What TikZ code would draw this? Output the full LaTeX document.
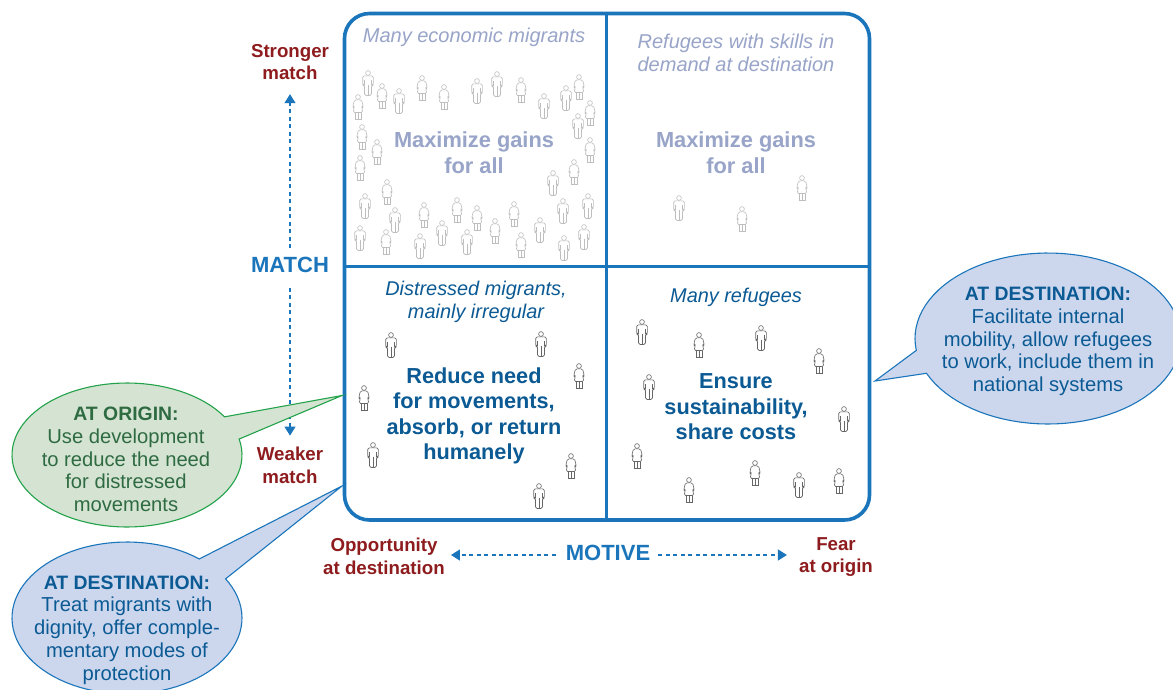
\documentclass[tikz,border=0pt]{standalone}
\usepackage{fontspec}
\setmainfont{Liberation Sans}
\usetikzlibrary{arrows.meta}
\definecolor{framec}{HTML}{1B75BB}
\definecolor{palec}{HTML}{98A4C8}
\definecolor{darkb}{HTML}{0B5A94}
\definecolor{redc}{HTML}{8E1C1E}
\definecolor{bluef}{HTML}{CCD7EE}
\definecolor{greenf}{HTML}{D5E4D2}
\definecolor{greens}{HTML}{22A24A}
\definecolor{greent}{HTML}{2F6B42}
\definecolor{greyfig}{HTML}{BEBEBE}
\definecolor{darkfig}{HTML}{666666}
\newcommand{\bubhead}[1]{{\fontsize{19.4}{22.8}\selectfont\bfseries #1}}
\tikzset{
  x=1pt,y=-1pt,
  figline/.style={draw=black},
  pics/man/.style={code={
    \draw[figline,line width=.6pt] (0,-10) circle (2.4);
    \draw[figline,line width=.6pt,rounded corners=1.6pt] (0,-7.2) -- (5.3,-7.2) -- (5.3,2) -- (3.5,2) -- (3.5,12.5) -- (-3.5,12.5) -- (-3.5,2) -- (-5.3,2) -- (-5.3,-7.2) -- cycle;
    \draw[figline,line width=.6pt] (0,1.5) -- (0,12.5) (3.5,-3) -- (3.5,2) (-3.5,-3) -- (-3.5,2);
  }},
  pics/woman/.style={code={
    \draw[figline,line width=.6pt] (0,-10) circle (2.4);
    \draw[figline,line width=.6pt,rounded corners=1.6pt] (0,-7.2) -- (3.6,-7.2) -- (5.3,0) -- (3.5,0) -- (5,5.5) -- (-5,5.5) -- (-3.5,0) -- (-5.3,0) -- (-3.6,-7.2) -- cycle;
    \draw[figline,line width=.6pt] (-3,5.5) -- (-3,12.5) -- (3,12.5) -- (3,5.5) (0,5.5) -- (0,12.5);
  }},
  axislab/.style={text=redc,font=\fontsize{18.7}{22.7}\selectfont\bfseries,align=center,inner sep=0pt},
  axisname/.style={text=framec,font=\fontsize{22}{24}\selectfont\bfseries,align=center,inner sep=0pt},
  paleit/.style={text=palec,font=\fontsize{20}{23.5}\selectfont\itshape,align=center,inner sep=0pt},
  darkit/.style={text=darkb,font=\fontsize{19.9}{23.2}\selectfont\itshape,align=center,inner sep=0pt},
  palehead/.style={text=palec,font=\fontsize{21.8}{26}\selectfont\bfseries,align=center,inner sep=0pt},
  darkhead/.style={text=darkb,font=\fontsize{21.7}{25.5}\selectfont\bfseries,align=center,inner sep=0pt},
  bubtext/.style={font=\fontsize{20.2}{22.8}\selectfont,align=center,inner sep=0pt},
  dasharrow/.style={draw=framec,line width=1.2pt,dash pattern=on 4pt off 3.5pt,-{Triangle[width=11pt,length=9pt]}},
  bluebub/.style={draw=framec,fill=bluef,line width=1.1pt,line join=miter},
  greenbub/.style={draw=greens,fill=greenf,line width=1.1pt,line join=miter},
}
\begin{document}
\begin{tikzpicture}
\useasboundingbox (0,0) rectangle (1173,689);
\clip (0,0) rectangle (1173,689);
\fill[white] (0,0) rectangle (1173,689);
% figures, pale
\begin{scope}[figline/.style={draw=greyfig}]
\foreach \px/\py in {368/83,399/101,477/91,497/84,544/106,566/98,578/126,553/183,365/206,395/220,563/211,588/206,360/238,420/246,442/233,467/242,540/230,564/248,584/237,679/208}
  \pic at (\px,\py) {man};
\foreach \px/\py in {382/96,358/107,422/88,444/97,521/90,579/87,590/113,590/150,362/137,377/152,360/168,574/172,387/192,424/215,457/210,477/218,514/214,386/242,495/231,521/245,742/219,802/188}
  \pic at (\px,\py) {woman};
\end{scope}
% figures, dark
\begin{scope}[figline/.style={draw=darkfig}]
\foreach \px/\py in {391/345,541/344,373/455,539/496,642/332,761/338,649/387,844/419,799/485}
  \pic at (\px,\py) {man};
\foreach \px/\py in {579/376,364/398,571/466,699/345,819/361,637/456,755/473,689/490,839/481}
  \pic at (\px,\py) {woman};
\end{scope}
% frame
\draw[framec,line width=3.6pt,rounded corners=25pt] (344.5,13.5) rectangle (869.5,520);
\draw[framec,line width=3.6pt] (606.5,13.5) -- (606.5,520) (344.5,266.5) -- (869.5,266.5);
% quadrant text
\node[paleit] (q1t) at (474,37) {Many economic migrants};
\node[palehead] (q1h) at (474,152.5) {Maximize gains\\for all};
\node[paleit] (q2t) at (736,53) {Refugees with skills in\\demand at destination};
\node[palehead] (q2h) at (736,152.5) {Maximize gains\\for all};
\node[darkit] (q3t) at (476,302) {Distressed migrants,\\mainly irregular};
\node[darkhead] (q3h) at (474,416) {Reduce need\\for movements,\\absorb, or return\\humanely};
\node[darkit] (q4t) at (736,297) {Many refugees};
\node[darkhead] (q4h) at (736,407) {Ensure\\sustainability,\\share costs};
% axes
\node[axislab] (strong) at (290,62) {Stronger\\match};
\node[axislab] (weak) at (290,465) {Weaker\\match};
\node[axisname] (match) at (290,265) {MATCH};
\node[axislab] (opp) at (384,556) {Opportunity\\at destination};
\node[axislab] (fear) at (836,557) {Fear\\at origin};
\node[axisname] (motive) at (608,553) {MOTIVE};
\coordinate (hline) at (608,555);
\draw[dasharrow] ([yshift=9pt]match.north) -- ([yshift=-14pt]strong.south);
\draw[dasharrow] ([yshift=-15pt]match.south) -- ([yshift=11pt]weak.north);
\draw[dasharrow] ([xshift=-10pt]motive.west |- hline) -- ([xshift=6pt]opp.east |- hline);
\draw[dasharrow] ([xshift=8pt]motive.east |- hline) -- ([xshift=-12pt]fear.west |- hline);
% bubbles
\coordinate (tipO) at (342,395.5);
\coordinate (tipD) at (342,486);
\coordinate (tipR) at (875,381);
\draw[greenbub] plot[domain=-12.8:328,samples=90] ({127+115*cos(\x)},{455+72*sin(\x)}) -- (tipO) -- cycle;
\draw[bluebub] plot[domain=-31:309,samples=90] ({127+115*cos(\x)},{618+76*sin(\x)}) -- (tipD) -- cycle;
\draw[bluebub] plot[domain=172:516,samples=90] ({1048+133*cos(\x)},{338.5+85.5*sin(\x)}) -- (tipR) -- cycle;
\node[bubtext,text=greent] (bo) at (126,459.5) {\bubhead{AT ORIGIN:}\\Use development\\to reduce the need\\for distressed\\movements};
\node[bubtext,text=darkb] (bd) at (127,630) {\bubhead{AT DESTINATION:}\\Treat migrants with\\dignity, offer comple-\\mentary modes of\\protection};
\node[bubtext,text=darkb] (br) at (1048,341.5) {\bubhead{AT DESTINATION:}\\Facilitate internal\\mobility, allow refugees\\to work, include them in\\national systems};
\end{tikzpicture}
\end{document}
